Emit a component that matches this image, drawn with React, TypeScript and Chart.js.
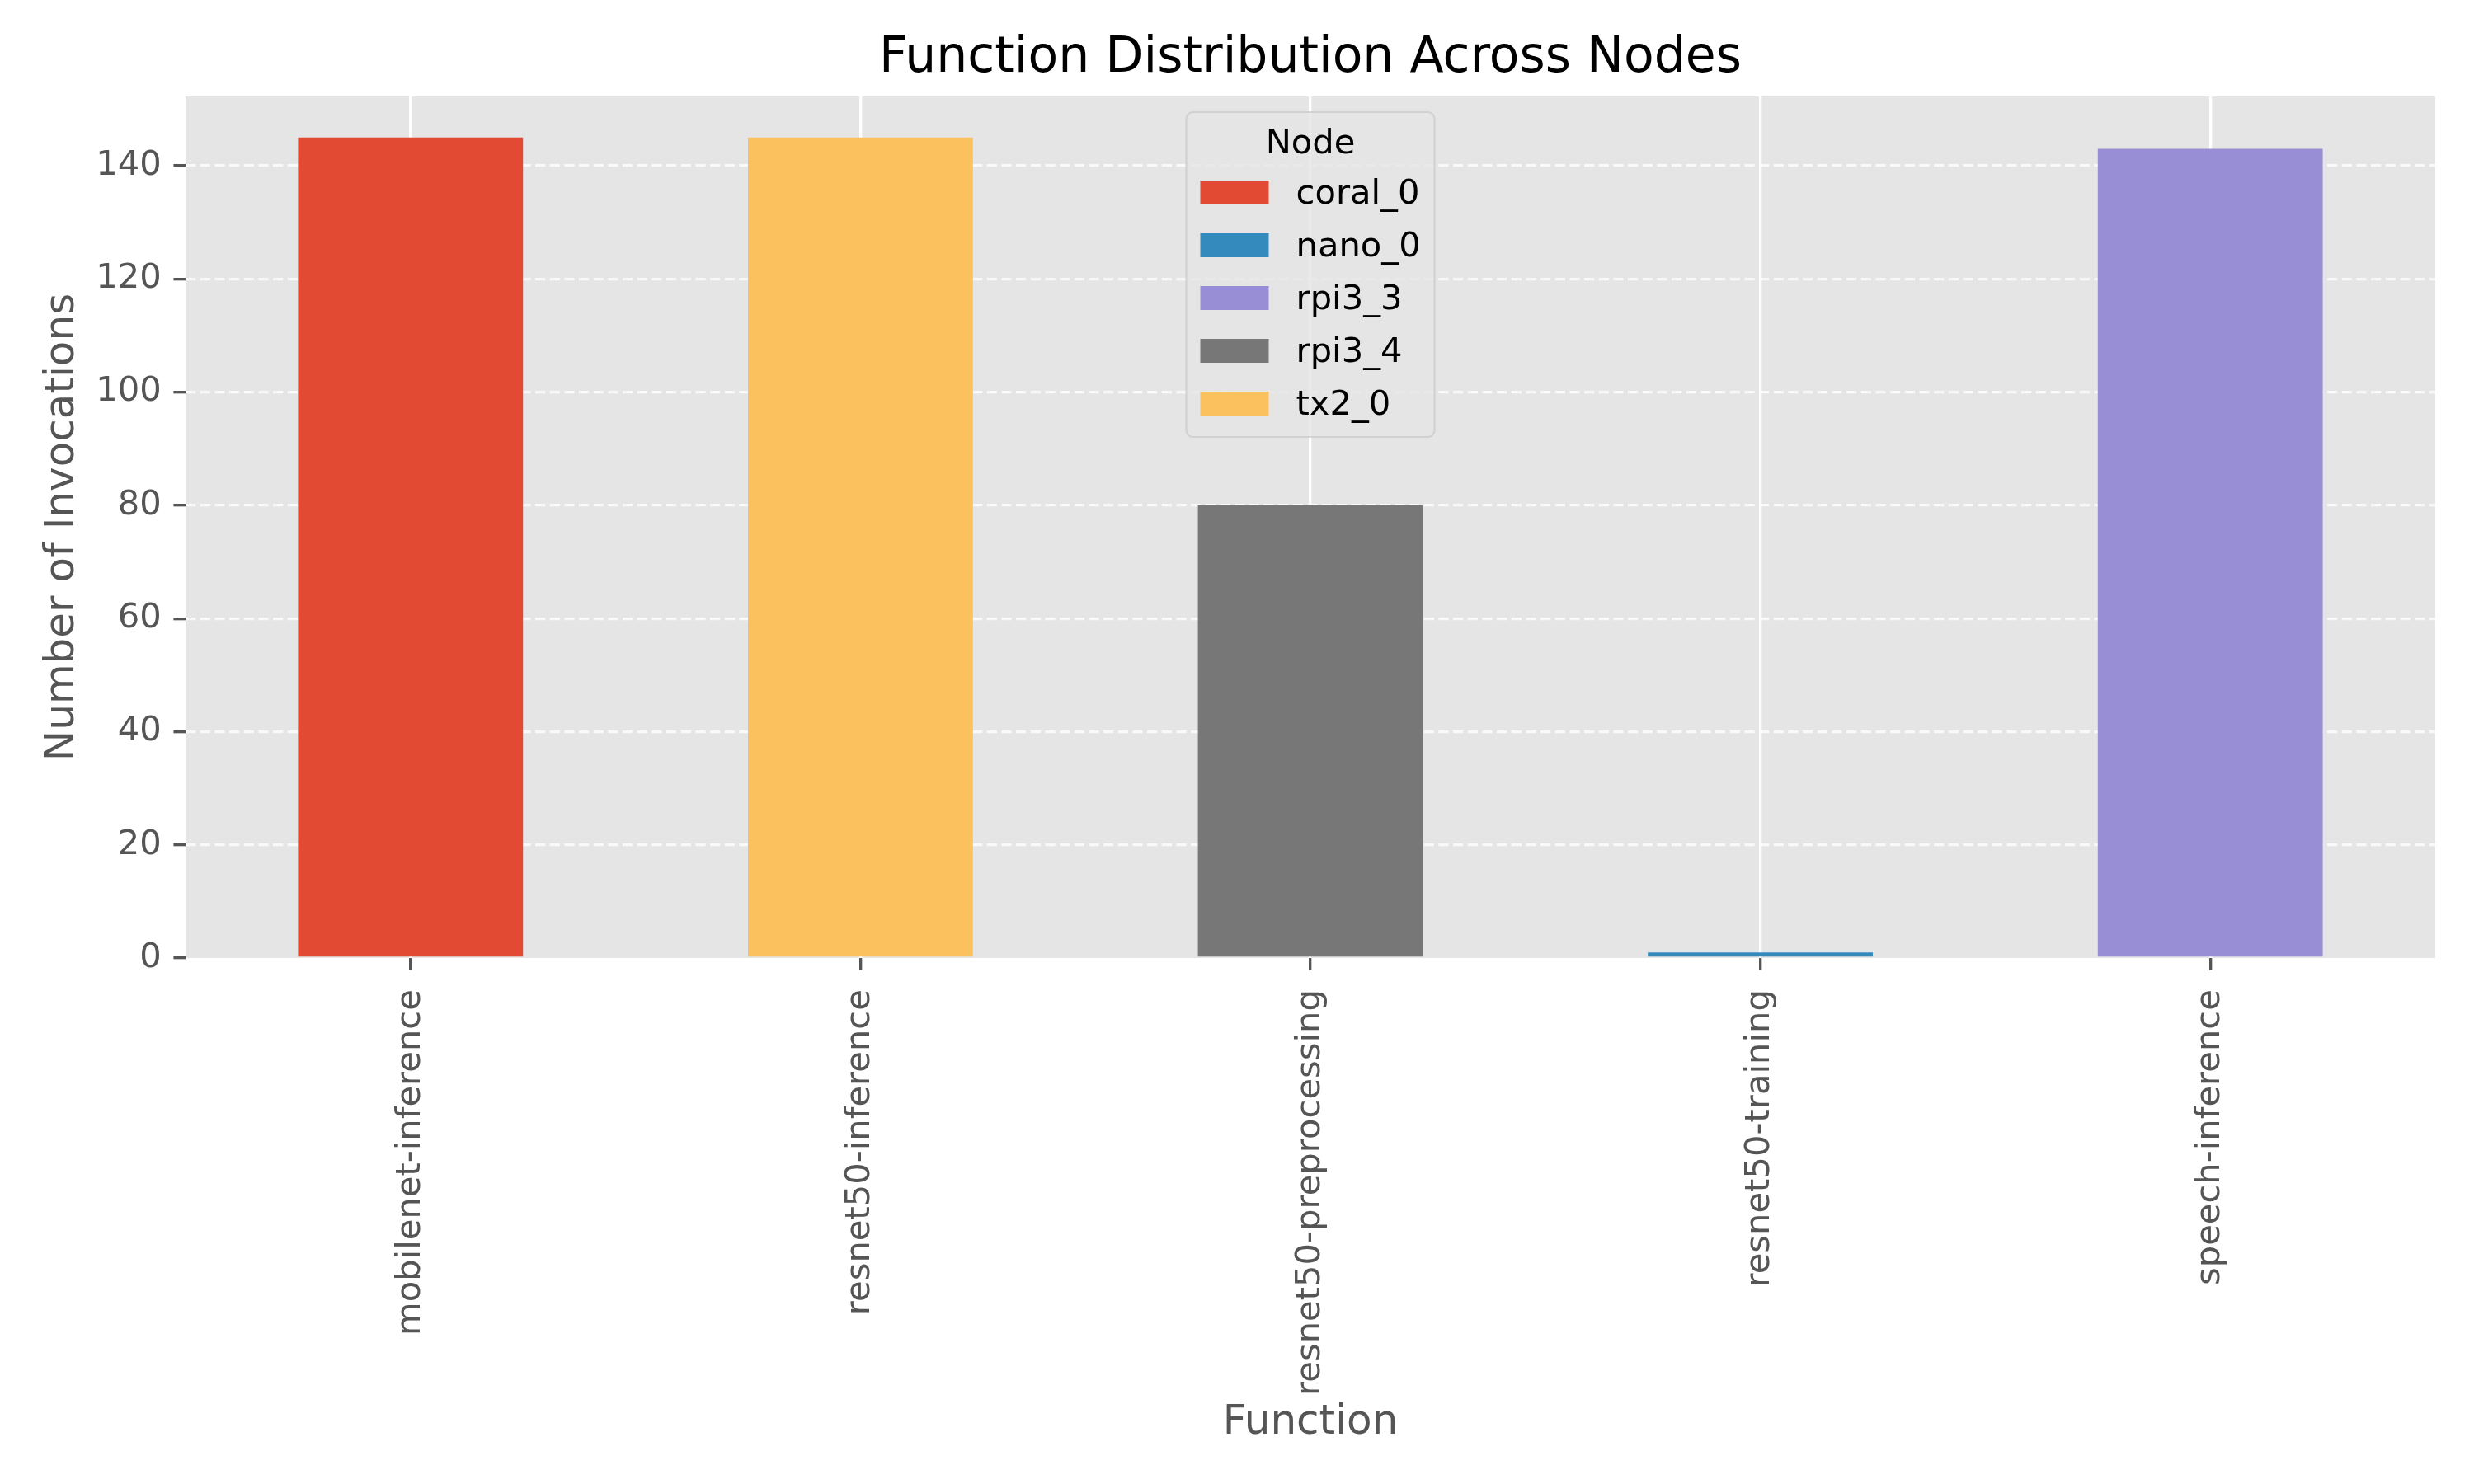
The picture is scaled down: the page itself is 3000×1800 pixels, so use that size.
import React, { useEffect, useRef } from 'react';
import { Chart, registerables } from 'chart.js';

Chart.register(...registerables);

// ---- Data ----
const categories = [
  'mobilenet-inference',
  'resnet50-inference',
  'resnet50-preprocessing',
  'resnet50-training',
  'speech-inference',
];
const nodeNames = ['coral_0', 'nano_0', 'rpi3_3', 'rpi3_4', 'tx2_0'];
const coral0Values = [145, 0, 0, 0, 0];
const nano0Values = [0, 0, 0, 1, 0];
const rpi33Values = [0, 0, 0, 0, 143];
const rpi34Values = [0, 0, 80, 0, 0];
const tx20Values = [0, 145, 0, 0, 0];
const yTickValues = [0, 20, 40, 60, 80, 100, 120, 140];
const yMax = 152.25;

const nodeColors = ['#E24A33', '#348ABD', '#988ED5', '#777777', '#FBC15E'];

const PT = 300 / 72;
const FONT = '"DejaVu Sans", sans-serif';

const bgPlugin = {
  id: 'mplBackground',
  beforeDraw(chart: any) {
    const { ctx, chartArea: a } = chart;
    ctx.save();
    ctx.fillStyle = '#ffffff';
    ctx.fillRect(0, 0, chart.width, chart.height);
    ctx.fillStyle = '#E5E5E5';
    ctx.fillRect(a.left, a.top, a.right - a.left, a.bottom - a.top);
    ctx.restore();
  },
};

function roundRectPath(ctx: CanvasRenderingContext2D, x: number, y: number, w: number, h: number, r: number) {
  ctx.beginPath();
  ctx.moveTo(x + r, y);
  ctx.lineTo(x + w - r, y);
  ctx.arcTo(x + w, y, x + w, y + r, r);
  ctx.lineTo(x + w, y + h - r);
  ctx.arcTo(x + w, y + h, x + w - r, y + h, r);
  ctx.lineTo(x + r, y + h);
  ctx.arcTo(x, y + h, x, y + h - r, r);
  ctx.lineTo(x, y + r);
  ctx.arcTo(x, y, x + r, y, r);
  ctx.closePath();
}

const legendPlugin = {
  id: 'mplLegend',
  afterDraw(chart: any) {
    const { ctx, chartArea: a } = chart;
    const F = 10 * PT;
    const w = 301;
    const h = 394;
    const left = (a.left + a.right) / 2 - w / 2;
    const top = a.top + 19;
    ctx.save();
    roundRectPath(ctx, left, top, w, h, 8);
    ctx.fillStyle = 'rgba(229,229,229,0.8)';
    ctx.fill();
    ctx.lineWidth = 2.1;
    ctx.strokeStyle = 'rgba(204,204,204,0.8)';
    ctx.stroke();
    ctx.font = `${F}px ${FONT}`;
    ctx.fillStyle = '#000000';
    ctx.textAlign = 'center';
    ctx.textBaseline = 'alphabetic';
    ctx.fillText('Node', left + w / 2, top + 50);
    chart.data.datasets.forEach((ds: any, i: number) => {
      const sy = top + 83 + 64 * i;
      ctx.fillStyle = ds.backgroundColor;
      ctx.fillRect(left + 17, sy, 83, 29);
      ctx.fillStyle = '#000000';
      ctx.textAlign = 'left';
      ctx.fillText(ds.label, left + 17 + 83 + 33, top + 111 + 64 * i);
    });
    ctx.restore();
  },
};

export default function App() {
  const canvasRef = useRef<HTMLCanvasElement | null>(null);

  useEffect(() => {
    if (!canvasRef.current) return;
    const seriesValues = [coral0Values, nano0Values, rpi33Values, rpi34Values, tx20Values];
    const chart = new Chart(canvasRef.current, {
      type: 'bar',
      data: {
        labels: categories,
        datasets: nodeNames.map((name, i) => ({
          label: name,
          data: seriesValues[i],
          backgroundColor: nodeColors[i],
          borderWidth: 0,
          categoryPercentage: 1.0,
          barPercentage: 0.5,
        })),
      },
      options: {
        responsive: false,
        animation: false,
        devicePixelRatio: 1,
        layout: { padding: { top: 0, right: 47, bottom: 0, left: 0 } },
        plugins: {
          legend: { display: false },
          tooltip: { enabled: false },
          title: {
            display: true,
            fullSize: false,
            text: 'Function Distribution Across Nodes',
            color: '#000000',
            font: { family: FONT, size: 14.4 * PT, weight: 'normal' },
            padding: { top: 35, bottom: 10 },
          },
        },
        scales: {
          x: {
            stacked: true,
            border: { display: false },
            grid: {
              display: true,
              offset: false,
              color: '#ffffff',
              lineWidth: 0.8 * PT,
              drawTicks: true,
              tickLength: 3.5 * PT,
              tickColor: '#555555',
              tickWidth: 0.8 * PT,
            },
            ticks: {
              autoSkip: false,
              minRotation: 90,
              maxRotation: 90,
              padding: 3.5 * PT + 9,
              color: '#555555',
              font: { family: FONT, size: 10 * PT },
            },
            title: {
              display: true,
              text: 'Function',
              color: '#555555',
              font: { family: FONT, size: 12 * PT },
              padding: { top: 0, bottom: 44 },
            },
            afterFit(scale: any) {
              scale.height = 1800 - 1162;
            },
          },
          y: {
            stacked: true,
            min: 0,
            max: yMax,
            border: {
              display: false,
              dash: [3.7 * 0.8 * PT, 1.6 * 0.8 * PT],
            },
            grid: {
              display: true,
              color: (c: any) => (c.tick && c.tick.value === 0 ? 'rgba(0,0,0,0)' : 'rgba(255,255,255,0.75)'),
              lineWidth: 0.8 * PT,
              drawTicks: true,
              tickLength: 3.5 * PT,
              tickColor: '#555555',
              tickWidth: 0.8 * PT,
              tickBorderDash: [],
            },
            ticks: {
              padding: 3.5 * PT,
              color: '#555555',
              font: { family: FONT, size: 10 * PT },
            },
            afterBuildTicks(scale: any) {
              scale.ticks = yTickValues.map((v) => ({ value: v }));
            },
            title: {
              display: true,
              text: 'Number of Invocations',
              color: '#555555',
              font: { family: FONT, size: 12 * PT },
              padding: { top: 46, bottom: 0 },
            },
            afterFit(scale: any) {
              scale.width = 225;
            },
          },
        },
      },
      plugins: [bgPlugin, legendPlugin],
    } as any);
    return () => chart.destroy();
  }, []);

  return (
    <div style={{ position: 'absolute', left: 0, top: 0, width: 3000, height: 1800, background: '#ffffff' }}>
      <canvas ref={canvasRef} width={3000} height={1800} style={{ width: 3000, height: 1800, display: 'block' }} />
    </div>
  );
}
